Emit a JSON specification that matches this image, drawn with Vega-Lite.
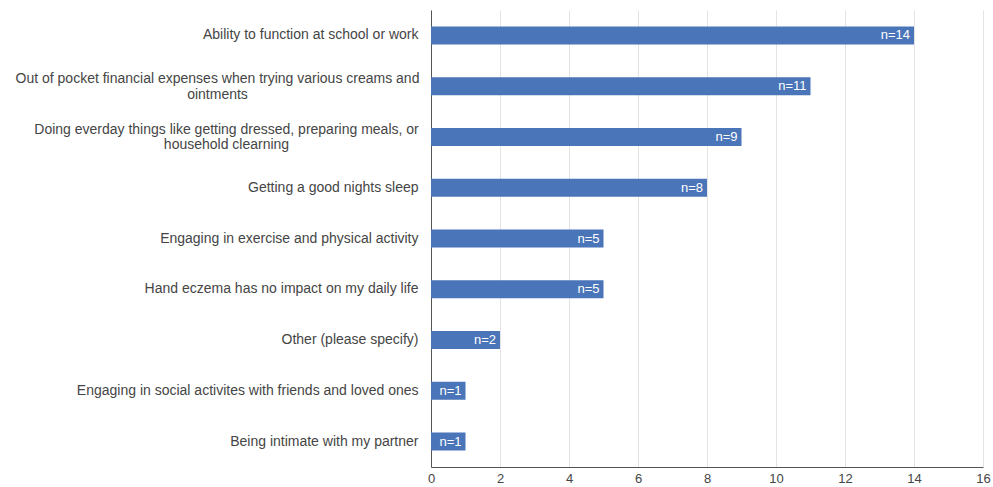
{
  "$schema": "https://vega.github.io/schema/vega-lite/v6.json",
  "width": 552,
  "height": 457,
  "autosize": "none",
  "padding": {"left": 431, "top": 10, "right": 10, "bottom": 20},
  "background": "white",
  "config": {"view": {"stroke": null}, "font": "Liberation Sans"},
  "data": {"values": [
    {"label": "Ability to function at school or work", "n": 14, "nlab": "n=14"},
    {"label": "Out of pocket financial expenses when trying various creams and|ointments", "n": 11, "nlab": "n=11"},
    {"label": "Doing everday things like getting dressed, preparing meals, or|household clearning", "n": 9, "nlab": "n=9"},
    {"label": "Getting a good nights sleep", "n": 8, "nlab": "n=8"},
    {"label": "Engaging in exercise and physical activity", "n": 5, "nlab": "n=5"},
    {"label": "Hand eczema has no impact on my daily life", "n": 5, "nlab": "n=5"},
    {"label": "Other (please specify)", "n": 2, "nlab": "n=2"},
    {"label": "Engaging in social activites with friends and loved ones", "n": 1, "nlab": "n=1"},
    {"label": "Being intimate with my partner", "n": 1, "nlab": "n=1"}
  ]},
  "encoding": {
    "y": {
      "field": "label", "type": "nominal", "sort": null,
      "scale": {"paddingInner": 0.645, "paddingOuter": 0.3225},
      "axis": {
        "title": null, "ticks": false, "grid": false,
        "domainColor": "#555555", "domainWidth": 1,
        "labelFont": "Liberation Sans", "labelFontSize": 14, "labelColor": "#454545",
        "labelLimit": 0, "labelLineHeight": 15.5,
        "labelExpr": "split(datum.value, '|')",
        "labelAlign": {"condition": {"test": "indexof(datum.value, '|') >= 0", "value": "center"}, "value": "right"},
        "labelOffset": {"condition": {"test": "indexof(datum.value, '|') >= 0", "value": -7}, "value": 0},
        "labelPadding": {"condition": [
          {"test": "indexof(datum.value, 'Out of pocket') >= 0", "value": 214},
          {"test": "indexof(datum.value, 'Doing everday') >= 0", "value": 205}
        ], "value": 13}
      }
    },
    "x": {
      "field": "n", "type": "quantitative",
      "scale": {"domain": [0, 16], "nice": false},
      "axis": {
        "title": null, "values": [0,2,4,6,8,10,12,14,16],
        "ticks": false, "grid": true, "gridColor": "#e3e3e3",
        "domainColor": "#555555", "labelFont": "Liberation Sans",
        "labelFontSize": 13, "labelColor": "#454545", "labelPadding": 5,
        "labelFlush": false, "labelOverlap": false
      }
    }
  },
  "layer": [
    {
      "mark": {"type": "bar", "color": "#4a75b8"}
    },
    {
      "mark": {"type": "text", "align": "right", "dx": -4, "color": "white", "font": "Liberation Sans", "fontSize": 13},
      "encoding": {
        "text": {"field": "nlab"}
      }
    }
  ]
}
